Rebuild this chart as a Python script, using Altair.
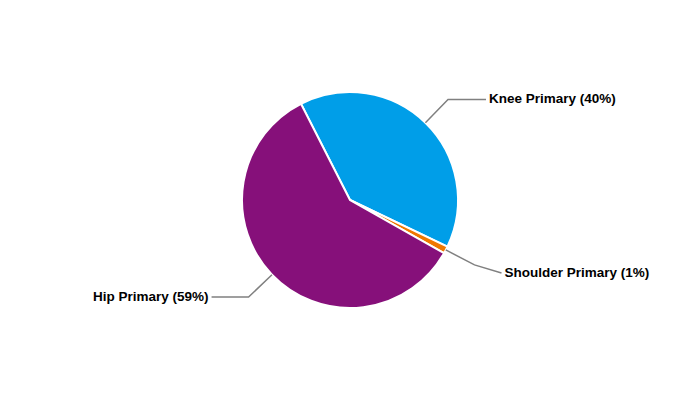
import math
import altair as alt
import pandas as pd

categories = ["Knee Primary", "Shoulder Primary", "Hip Primary"]
values = [39.6, 1.1, 59.3]
labels = ["Knee Primary (40%)", "Shoulder Primary (1%)", "Hip Primary (59%)"]
colors = ["#009EE8", "#F07800", "#86107A"]
label_shift = [0, -8, 0]  # small vertical nudges of label ends (px)
arm_len = [38, 27, 37]    # horizontal leader arm lengths (px)

W, H = 684, 384
R = 108
START = math.radians(-27)
ELBOW = 1.3

total = sum(values)
rows, line_rows, text_rows = [], [], []
cum = 0.0
for i, (c, v, lab) in enumerate(zip(categories, values, labels)):
    rows.append({"cat": c, "value": v, "idx": i})
    a0 = START + 2 * math.pi * cum / total
    cum += v
    a1 = START + 2 * math.pi * cum / total
    a = (a0 + a1) / 2
    ex, ey = R * math.sin(a), R * math.cos(a)
    bx, by = ELBOW * ex, ELBOW * ey
    side = 1 if math.sin(a) >= 0 else -1
    tx, ty = bx + side * arm_len[i], by + label_shift[i]
    for s, (px, py) in enumerate([(ex, ey), (bx, by), (tx, ty)]):
        line_rows.append({"cat": c, "step": s, "x": px, "y": py})
    text_rows.append({"cat": c, "label": lab, "x": tx + side * 3, "y": ty,
                      "align": "left" if side > 0 else "right"})

df = pd.DataFrame(rows)
lines = pd.DataFrame(line_rows)
texts = pd.DataFrame(text_rows)

xs = alt.Scale(domain=[-W / 2, W / 2], range=[0, W])
ys = alt.Scale(domain=[-H / 2, H / 2], range=[H, 0])

pie = alt.Chart(df).mark_arc(outerRadius=R, stroke="white", strokeWidth=2).encode(
    theta=alt.Theta("value:Q", stack=True,
                    scale=alt.Scale(range=[START, START + 2 * math.pi])),
    color=alt.Color("cat:N", scale=alt.Scale(domain=categories, range=colors), legend=None),
    order=alt.Order("idx:Q"),
)

leaders = alt.Chart(lines).mark_line(color="#808080", strokeWidth=1.5).encode(
    x=alt.X("x:Q", scale=xs, axis=None),
    y=alt.Y("y:Q", scale=ys, axis=None),
    detail="cat:N",
    order="step:Q",
)

text_style = dict(baseline="middle", font="Liberation Sans", fontSize=13.5,
                  fontWeight="bold", color="black")
left_t = alt.Chart(texts[texts["align"] == "left"]).mark_text(align="left", **text_style).encode(
    x=alt.X("x:Q", scale=xs, axis=None), y=alt.Y("y:Q", scale=ys, axis=None), text="label:N")
right_t = alt.Chart(texts[texts["align"] == "right"]).mark_text(align="right", **text_style).encode(
    x=alt.X("x:Q", scale=xs, axis=None), y=alt.Y("y:Q", scale=ys, axis=None), text="label:N")

chart = alt.layer(pie, leaders, left_t, right_t).properties(
    width=W, height=H, padding=0, autosize="none"
).configure_view(stroke=None)

chart.save("out.html", embed_options={"renderer": "svg", "actions": False})
